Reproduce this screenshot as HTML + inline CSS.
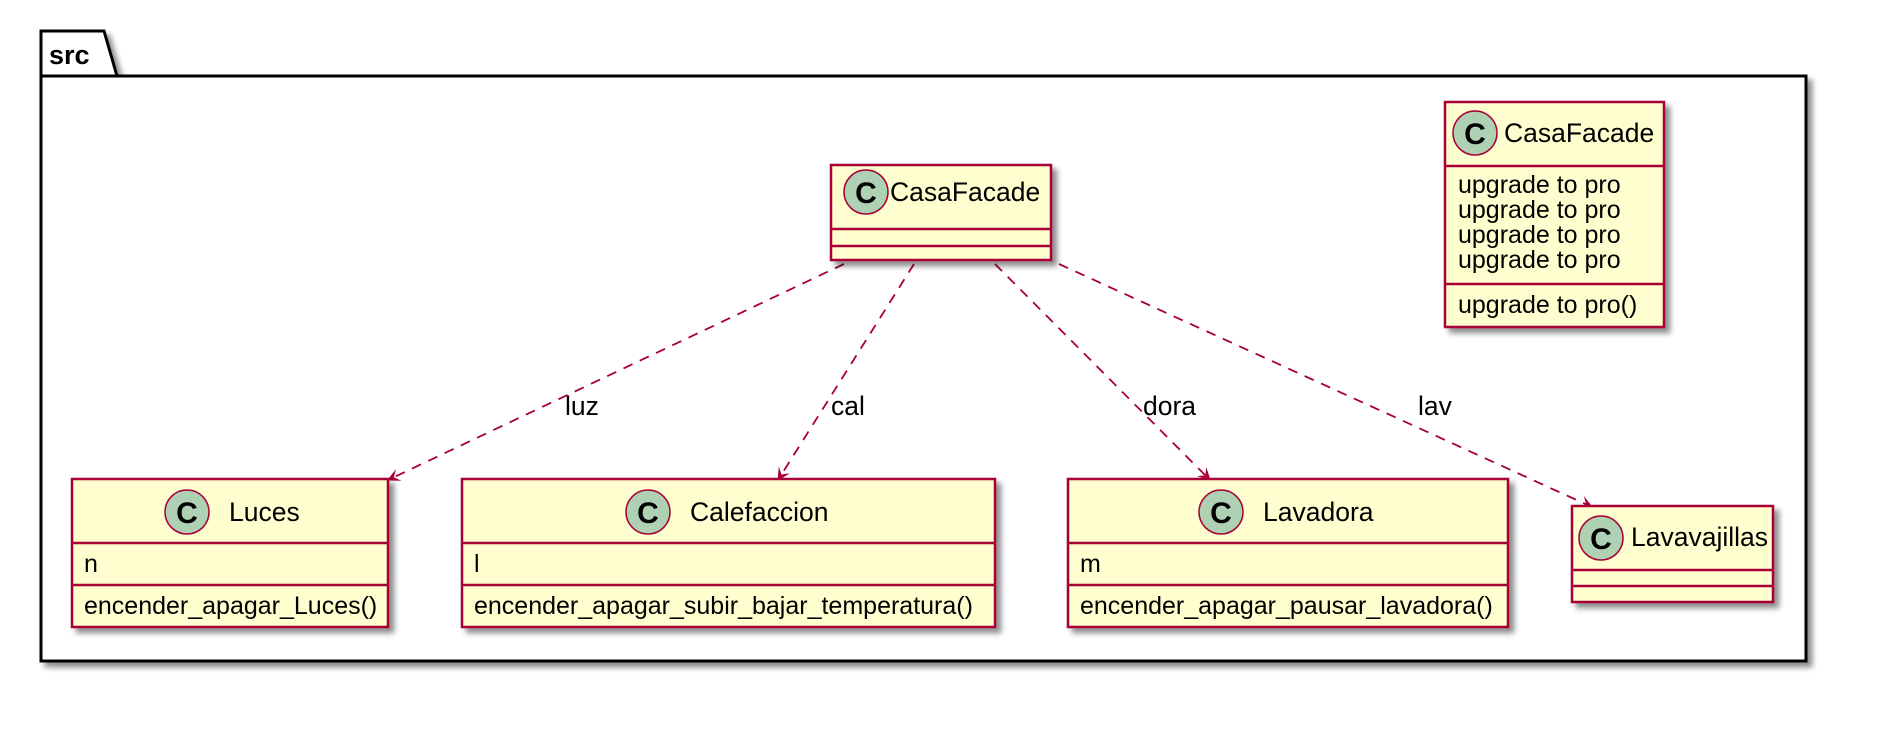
<!DOCTYPE html>
<html><head><meta charset="utf-8"><style>
html,body{margin:0;padding:0;background:#fff;}
svg{display:block;}
text{font-family:"Liberation Sans",sans-serif;fill:#000;}
</style></head><body>
<svg width="1882" height="746" viewBox="0 0 1882 746" xmlns="http://www.w3.org/2000/svg">
<defs>
<filter id="sh" x="-10%" y="-10%" width="130%" height="130%"><feGaussianBlur in="SourceAlpha" stdDeviation="3"/><feOffset dx="5" dy="5"/><feComponentTransfer><feFuncA type="linear" slope="0.45"/></feComponentTransfer><feMerge><feMergeNode/><feMergeNode in="SourceGraphic"/></feMerge></filter>
<marker id="ar" viewBox="0 0 12 12" refX="11" refY="6" markerWidth="13" markerHeight="13" markerUnits="userSpaceOnUse" orient="auto"><path d="M0,0 L12,6 L0,12 L5,6 Z" fill="#A80036"/></marker>
</defs>
<g filter="url(#sh)">
<path d="M41,31 L104,31 L117,76 L1806,76 L1806,661 L41,661 Z" fill="#fff" stroke="#000" stroke-width="3"/>
</g>
<line x1="41" y1="76" x2="117" y2="76" stroke="#000" stroke-width="3"/>
<text x="49" y="64" font-size="27" font-weight="bold">src</text>

<g stroke="#A80036" stroke-width="1.8" stroke-dasharray="10,8" fill="none" marker-end="url(#ar)">
<line x1="844" y1="264" x2="388" y2="480"/>
<line x1="914" y1="264" x2="778" y2="480"/>
<line x1="995" y1="264" x2="1210" y2="480"/>
<line x1="1059" y1="264" x2="1592" y2="507"/>
</g>
<g font-size="26.5">
<text x="565" y="415">luz</text>
<text x="831" y="415">cal</text>
<text x="1143" y="415">dora</text>
<text x="1418" y="415">lav</text>
</g>

<g stroke="#A80036" stroke-width="2.5" fill="#FEFECE">
<rect x="831" y="165" width="220" height="95" filter="url(#sh)"/>
<line x1="831" y1="229" x2="1051" y2="229"/><line x1="831" y1="246" x2="1051" y2="246"/>
<rect x="1445" y="102" width="219" height="225" filter="url(#sh)"/>
<line x1="1445" y1="166" x2="1664" y2="166"/><line x1="1445" y1="284" x2="1664" y2="284"/>
<rect x="72" y="479" width="316" height="148" filter="url(#sh)"/>
<line x1="72" y1="543" x2="388" y2="543"/><line x1="72" y1="585" x2="388" y2="585"/>
<rect x="462" y="479" width="533" height="148" filter="url(#sh)"/>
<line x1="462" y1="543" x2="995" y2="543"/><line x1="462" y1="585" x2="995" y2="585"/>
<rect x="1068" y="479" width="440" height="148" filter="url(#sh)"/>
<line x1="1068" y1="543" x2="1508" y2="543"/><line x1="1068" y1="585" x2="1508" y2="585"/>
<rect x="1572" y="506" width="201" height="96" filter="url(#sh)"/>
<line x1="1572" y1="570" x2="1773" y2="570"/><line x1="1572" y1="586" x2="1773" y2="586"/>
</g>

<g fill="#ADD1B2" stroke="#A80036" stroke-width="1.5">
<circle cx="866" cy="192" r="22"/>
<circle cx="1475" cy="133" r="22"/>
<circle cx="187" cy="512" r="22"/>
<circle cx="648" cy="512" r="22"/>
<circle cx="1221" cy="512" r="22"/>
<circle cx="1601" cy="538" r="22"/>
</g>
<g font-size="30" font-weight="bold" text-anchor="middle">
<text x="866" y="203">C</text>
<text x="1475" y="144">C</text>
<text x="187" y="523">C</text>
<text x="648" y="523">C</text>
<text x="1221" y="523">C</text>
<text x="1601" y="549">C</text>
</g>

<g font-size="26.5">
<text x="890" y="201">CasaFacade</text>
<text x="1504" y="142">CasaFacade</text>
<text x="229" y="521">Luces</text>
<text x="690" y="521">Calefaccion</text>
<text x="1263" y="521">Lavadora</text>
<text x="1631" y="546">Lavavajillas</text>
</g>
<g font-size="25">
<text x="1458" y="193">upgrade to pro</text>
<text x="1458" y="218">upgrade to pro</text>
<text x="1458" y="243">upgrade to pro</text>
<text x="1458" y="268">upgrade to pro</text>
<text x="1458" y="313">upgrade to pro()</text>
<text x="84" y="572">n</text>
<text x="84" y="614">encender_apagar_Luces()</text>
<text x="474" y="572">l</text>
<text x="474" y="614">encender_apagar_subir_bajar_temperatura()</text>
<text x="1080" y="572">m</text>
<text x="1080" y="614">encender_apagar_pausar_lavadora()</text>
</g>
</svg>
</body></html>
